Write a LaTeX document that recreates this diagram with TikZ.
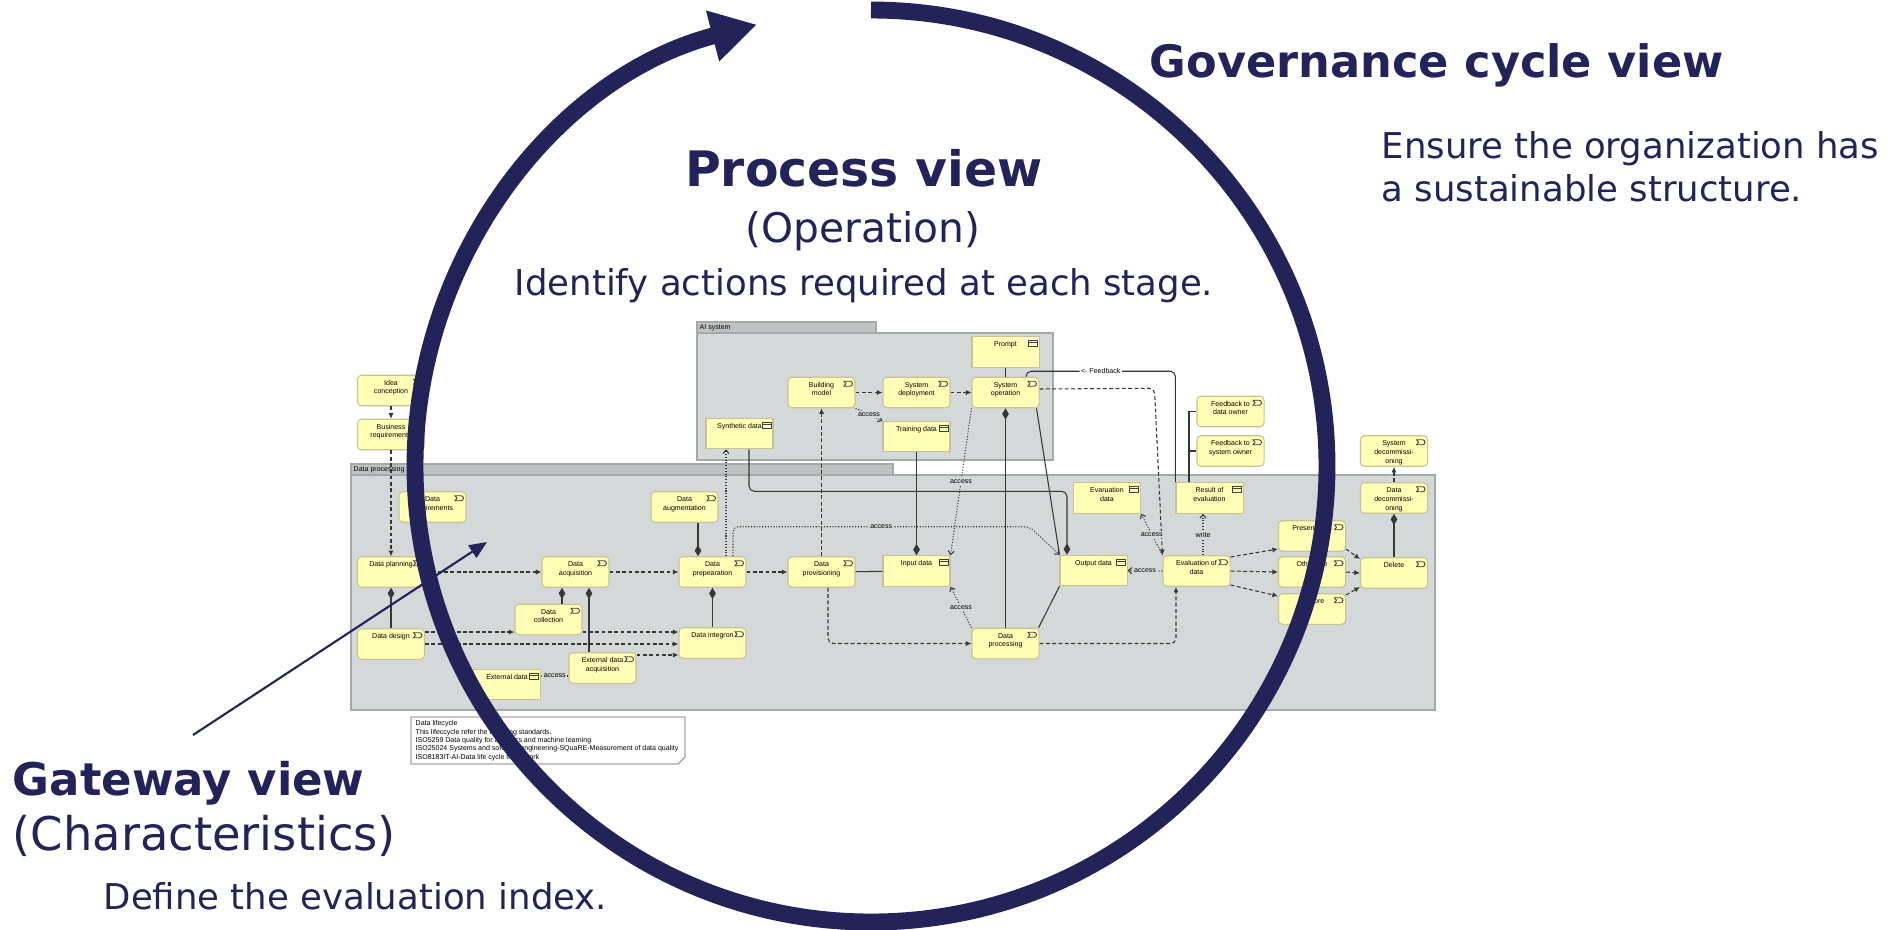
\documentclass[tikz,border=0pt]{standalone}
\usepackage{fontspec}
\usepackage{tikz}
\usetikzlibrary{arrows.meta,calc}
\newfontfamily\boxfont{Liberation Sans}
\newfontfamily\bigfont{DejaVu Sans}
\definecolor{navy}{RGB}{35,35,90}
\definecolor{boxfill}{RGB}{255,255,181}
\definecolor{boxline}{RGB}{196,196,150}
\definecolor{grpfill}{RGB}{212,216,217}
\definecolor{grptab}{RGB}{190,194,195}
\definecolor{grpline}{RGB}{165,169,170}
\definecolor{wirecol}{RGB}{55,55,55}
\newcommand{\tinytext}{\boxfont\fontsize{2pt}{2.5pt}\selectfont}

\tikzset{
  box/.style={draw=boxline, fill=boxfill, line width=0.3pt, minimum width=0.67cm, minimum height=0.305cm,
    inner sep=0pt, font=\tinytext,
    execute at begin node={\begin{minipage}[c][0.27cm][t]{0.56cm}\centering\rule{0pt}{2.3pt}},
    execute at end node={\end{minipage}}},
  boxicon/.style={draw=black!75, line width=0.25pt, sharp corners},
  proc/.style={box, rounded corners=1.1pt, path picture={
    \draw[boxicon] ([shift={(-11,-4)}]path picture bounding box.north east) -- ++(6,0)
      arc[start angle=90, end angle=-90, radius=2.5] -- ++(-6,0) -- ++(2,2.5) -- cycle;}},
  dobj/.style={box, path picture={
    \draw[boxicon] ([shift={(-11,-4)}]path picture bounding box.north east) rectangle ++(9,-6);
    \draw[boxicon] ([shift={(-11,-6)}]path picture bounding box.north east) -- ++(9,0);}},
  grp/.style={draw=grpline, fill=grpfill, line width=0.4pt},
  grptab/.style={draw=grpline, fill=grptab, line width=0.4pt},
  grplabel/.style={font=\tinytext, anchor=west, inner sep=0pt},
  wire/.style={draw=wirecol, line width=0.3pt},
  trig/.style={wire, dash pattern=on 1.1pt off 0.7pt, -{Latex[length=1.6pt,width=1.5pt]}},
  acc/.style={wire, dash pattern=on 0.3pt off 0.5pt, -{Straight Barb[length=1pt,width=1.7pt]}},
  comp/.style={wire, {Diamond[length=3.2pt,width=1.9pt]}-},
  lbl/.style={font=\tinytext, fill=grpfill, inner sep=0.4pt},
  title/.style={font=\bigfont\bfseries\fontsize{#1}{15pt}\selectfont, text=navy, inner sep=0pt},
  paren/.style={font=\bigfont\fontsize{#1}{14pt}\selectfont, text=navy, inner sep=0pt},
  desc/.style={font=\bigfont\fontsize{10.1pt}{12pt}\selectfont, text=navy, inner sep=0pt},
}

\begin{document}
\begin{tikzpicture}[x=0.01cm, y=0.01cm]
    \useasboundingbox (0,0) rectangle (1896,-929);

    % groups
    \draw[grp] (697,-333) rectangle (1053,-460);
    \draw[grptab] (697,-322) rectangle (876,-333);
    \node[grplabel] (AIlabel) at (699,-327.5) {AI system};
    \draw[grp] (351,-475) rectangle (1435,-710);
    \draw[grptab] (351,-464) rectangle (893,-475);
    \node[grplabel] (DPlabel) at (353,-469.5) {Data processing};

    \node[dobj] (Prompt) at (1005.5,-352) {Prompt};
    \node[proc] (Building) at (821.5,-392.5) {Building\\model};
    \node[proc] (Deploy) at (916.5,-392.5) {System\\deployment};
    \node[proc] (Operation) at (1005.5,-392.5) {System\\operation};
    \node[dobj] (Training) at (916.5,-436.5) {Training data};
    \node[dobj] (Synthetic) at (739.5,-433.5) {Synthetic data};

    \node[proc] (Idea) at (391,-390.5) {Idea\\conception};
    \node[proc] (BusReq) at (391,-434.5) {Business\\requirements};
    \node[proc] (DataReq) at (432.5,-507) {Data\\requirements};
    \node[proc] (Planning) at (391,-572) {Data planning};
    \node[proc] (Acquisition) at (575.5,-572) {Data\\acquisition};
    \node[proc] (Collection) at (548.5,-619.5) {Data\\collection};
    \node[proc] (Design) at (391,-644) {Data design};
    \node[proc] (ExtAcq) at (602.5,-668) {External data\\acquisition};
    \node[dobj] (ExtData) at (507,-684.5) {External data};
    \node[proc] (Augment) at (684.5,-507) {Data\\augmentation};
    \node[proc] (Prep) at (712.5,-572) {Data\\prepearation};
    \node[proc] (Integron) at (712.5,-643) {Data integron};
    \node[proc] (Provision) at (821.5,-572) {Data\\provisioning};
    \node[dobj] (Input) at (916.5,-571) {Input data};
    \node[proc] (Processing) at (1005.5,-643.5) {Data\\processing};
    \node[dobj] (Output) at (1093.5,-570.5) {Output data};
    \node[dobj] (EvalData) at (1107,-498) {Evaruation\\data};
    \node[dobj] (Result) at (1209.5,-498) {Result of\\evaluation};
    \node[proc] (EvalOf) at (1196.5,-571) {Evaluation of\\data};
    \node[proc] (Present) at (1312,-536) {Presentation};
    \node[proc] (Other) at (1312,-572) {Other use};
    \node[proc] (Restore) at (1312,-609) {Restore};
    \node[proc] (Delete) at (1394,-573) {Delete};
    \node[proc] (Decomm) at (1394,-498) {Data\\decommissi-\\oning};
    \node[proc] (SysDecomm) at (1394,-451) {System\\decommissi-\\oning};
    \node[proc] (FbData) at (1230.5,-411.5) {Feedback to\\data owner};
    \node[proc] (FbSys) at (1230.5,-451) {Feedback to\\system owner};

    \draw[trig] (Idea) -- (BusReq);
    \draw[trig] (BusReq) -- (Planning);
    \draw[comp] (Planning) -- (Design);
    \draw[trig] (Planning) -- (Acquisition);
    \draw[trig] (Acquisition) -- (Prep);
    \draw[comp] ($(Acquisition.south)+(-13.5,0)$) -- ($(Collection.north)+(13.5,0)$);
    \draw[comp] ($(Acquisition.south)+(13.5,0)$) -- ($(ExtAcq.north)+(-13.5,0)$);
    \draw[trig] ($(Design.east)+(0,12)$) -- ($(Collection.west)+(0,-12.5)$);
    \draw[trig] ($(Collection.east)+(0,-12.5)$) -- ($(Integron.west)+(0,11)$);
    \draw[trig] (Design.east) -- ($(Integron.west)+(0,-1)$);
    \draw[trig] ($(ExtAcq.east)+(0,13)$) -- ($(Integron.west)+(0,-12)$);
    \draw[acc] ($(ExtAcq.west)+(0,-8)$) -- node[lbl] {access} ($(ExtData.east)+(0,8.5)$);

    \draw[comp] ($(Prep.north)+(-14.5,0)$) -- ($(Augment.south)+(13.5,0)$);
    \draw[comp] (Prep.south) -- (Integron.north);
    \draw[trig] (Prep) -- (Provision);
    \draw[wire] (Provision) -- (Input);
    \draw[trig, rounded corners=1.5pt] ($(Provision.south)+(6.5,0)$) |- (Processing.west);
    \draw[trig] (Provision) -- (Building);
    \draw[acc] ($(Prep.north)+(13.5,0)$) -- ($(Synthetic.south)+(-13.5,0)$);
    \draw[comp, rounded corners=1.5pt] ($(Output.north)+(-26.5,0)$) |- ($(Synthetic.south)+(9.5,-42)$) -- ($(Synthetic.south)+(9.5,0)$);
    \draw[acc, rounded corners=1.5pt] ($(Prep.north)+(20.5,0)$) |- node[pos=0.75, lbl] {access} ($(Output.north west)+(-30,28)$) -- (Output.north west);

    \draw[trig] (Building) -- (Deploy);
    \draw[trig] (Deploy) -- (Operation);
    \draw[acc] (Building.south east) -- node[lbl] {access} (Training.north west);
    \draw[wire] (Prompt) -- (Operation);
    \draw[comp] (Input) -- (Training);
    \draw[comp] (Operation) -- (Processing);
    \draw[acc] (Operation.south west) -- node[lbl] {access} (Input.north east);
    \draw[acc] (Processing.north west) -- node[lbl] {access} (Input.south east);
    \draw[wire] ($(Operation.south)+(31,0)$) -- (Output.north west);
    \draw[wire] ($(Processing.north east)+(-1,0)$) -- (Output.south west);

    \draw[trig, rounded corners=1.5pt] (Processing.east) -| ($(EvalOf.south)+(-20.5,0)$);
    \draw[trig, rounded corners=1.5pt] ($(Operation.east)+(0,3.5)$) -- ($(EvalOf.north west)+(-8,167)$) -- (EvalOf.north west);
    \draw[wire, rounded corners=1.5pt] ($(Operation.north)+(20.5,0)$) |- node[pos=0.75, lbl, fill=white] {<- Feedback} ($(Result.north west)+(0,111)$) -- (Result.north west);
    \draw[wire] ($(Result.north)+(-20.5,0)$) |- (FbData.west);
    \draw[wire] ($(Result.north)+(-20.5,0)$) |- (FbSys.west);
    \draw[acc] (EvalOf.north west) -- node[lbl] {access} (EvalData.south east);
    \draw[acc] ($(EvalOf.north)+(6.5,0)$) -- node[lbl] {write} ($(Result.south)+(-6.5,0)$);
    \draw[acc] (EvalOf.west) -- node[lbl] {access} (Output.east);

    \draw[trig] ($(EvalOf.east)+(0,14)$) -- ($(Present.west)+(0,-13)$);
    \draw[trig] (EvalOf.east) -- (Other.west);
    \draw[trig] ($(EvalOf.east)+(0,-14)$) -- ($(Restore.west)+(0,13)$);
    \draw[trig] ($(Present.east)+(0,-13)$) -- ($(Delete.west)+(0,14)$);
    \draw[trig] (Other.east) -- (Delete.west);
    \draw[trig] ($(Restore.east)+(0,14)$) -- ($(Delete.west)+(0,-14)$);
    \draw[comp] (Decomm) -- (Delete);
    \draw[trig] (Decomm) -- (SysDecomm);

    % note
    \draw[draw=grpline, fill=white, line width=0.4pt] (411,-717) -- (685,-717) -- (685,-757) -- (678,-764) -- (411,-764) -- cycle;
    \node[anchor=north west, align=left, inner sep=0pt, font=\boxfont\fontsize{2pt}{2.36pt}\selectfont] (Lifecycle) at (415,-720)
      {Data lifecycle\\This lifeccycle refer the following standards.\\ISO5259 Data quality for analytics and machine learning\\ISO25024 Systems and software engineering-SQuaRE-Measurement of data quality\\ISO8183IT-AI-Data life cycle framework};

    % cycle
    \draw[navy, line width=4.8pt, -{Triangle[length=13pt,width=14pt]}] (871,-10) arc[start angle=90, end angle=-255.5, radius=456];

    \node[title=12.7pt, anchor=base west] (GovTitle) at (1149,-77) {Governance cycle view};
    \node[desc, anchor=base west] (GovLineA) at (1381,-158) {Ensure the organization has};
    \node[desc, anchor=base west] (GovLineB) at (1381,-201) {a sustainable structure.};
    \node[title=13.9pt, anchor=base] (ProcTitle) at (864,-186) {Process view};
    \node[paren=11.6pt, anchor=base] (ProcSub) at (863,-242) {(Operation)};
    \node[desc, anchor=base] (ProcDesc) at (864,-295) {Identify actions required at each stage.};
    \node[title=12.8pt, anchor=base west] (GateTitle) at (12,-795) {Gateway view};
    \node[paren=13.2pt, anchor=base west] (GateSub) at (12,-850) {(Characteristics)};
    \node[desc, anchor=base west] (GateDesc) at (103,-909) {Define the evaluation index.};

    \coordinate (GateTail) at (193,-735);
    \coordinate (GateTip) at (487,-542);
    \draw[navy, line width=0.6pt, -{Triangle[length=5pt,width=4.2pt]}] (GateTail) -- (GateTip);
\end{tikzpicture}
\end{document}
